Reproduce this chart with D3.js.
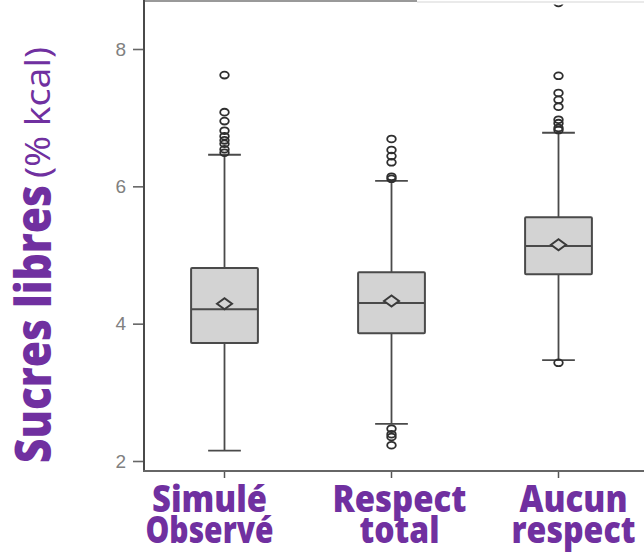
<!DOCTYPE html>
<html>
<head>
<meta charset="utf-8">
<script src="https://cdn.jsdelivr.net/npm/d3@7"></script>
<style>
  html, body { margin: 0; padding: 0; background: #fff; }
  svg { display: block; }
</style>
</head>
<body>
<svg id="chart" width="644" height="555"></svg>
<script>
// Free sugars (% kcal) distributions for three scenarios
const categories = ["Simulé Observé", "Respect total", "Aucun respect"];
const labelLines = [["Simulé", "Observé"], ["Respect", "total"], ["Aucun", "respect"]];
const q1 = [3.72, 3.86, 4.72];
const median = [4.21, 4.30, 5.13];
const q3 = [4.81, 4.75, 5.55];
const mean = [4.29, 4.33, 5.15];
const whiskerLow = [2.15, 2.54, 3.47];
const whiskerHigh = [6.46, 6.08, 6.78];
const outliers = [
  [7.62, 7.08, 6.95, 6.81, 6.73, 6.67, 6.62, 6.54, 6.49],
  [6.69, 6.53, 6.44, 6.35, 6.14, 6.11, 2.47, 2.39, 2.35, 2.23],
  [8.67, 7.61, 7.36, 7.26, 7.16, 6.97, 6.92, 6.85, 6.82, 3.43]
];
const yTicks = [2, 4, 6, 8];

const purple = "#7030A0";
const ink = "#4a4a4a";
const boxFill = "#d3d3d3";

const svg = d3.select("#chart");
const W = 644, H = 555;
const plot = { left: 144, top: 0, bottom: 471, right: 644 };

const x = d3.scaleBand().domain(categories).range([141, 642]).paddingInner(0).paddingOuter(0);
const y = d3.scaleLinear().domain([2, 8]).range([461, 49]);
const cx = c => x(c) + x.bandwidth() / 2;
const boxW = x.bandwidth() * 0.4;
const capW = boxW * 0.49;

const rows = categories.map((c, i) => ({
  cat: c, q1: q1[i], med: median[i], q3: q3[i], mean: mean[i],
  lo: whiskerLow[i], hi: whiskerHigh[i], out: outliers[i], lines: labelLines[i]
}));

svg.append("defs").append("clipPath").attr("id", "plotClip")
  .append("rect").attr("x", plot.left).attr("y", 4.5)
  .attr("width", plot.right - plot.left).attr("height", plot.bottom - 4.5);

// frame top edge
svg.append("line").attr("x1", plot.left).attr("x2", 417).attr("y1", 1).attr("y2", 1)
  .attr("stroke", "#777").attr("stroke-width", 1.5);
svg.append("line").attr("x1", 417).attr("x2", W).attr("y1", 2).attr("y2", 2)
  .attr("stroke", "#d6d6d6").attr("stroke-width", 1.2);

const g = svg.append("g").attr("clip-path", "url(#plotClip)");

const box = g.selectAll("g.box").data(rows).join("g").attr("class", "box");

// whiskers
box.append("line")
  .attr("x1", d => cx(d.cat)).attr("x2", d => cx(d.cat))
  .attr("y1", d => y(d.hi)).attr("y2", d => y(d.q3))
  .attr("stroke", ink).attr("stroke-width", 1.8);
box.append("line")
  .attr("x1", d => cx(d.cat)).attr("x2", d => cx(d.cat))
  .attr("y1", d => y(d.q1)).attr("y2", d => y(d.lo))
  .attr("stroke", ink).attr("stroke-width", 1.8);
// caps
["hi", "lo"].forEach(k => {
  box.append("line")
    .attr("x1", d => cx(d.cat) - capW / 2).attr("x2", d => cx(d.cat) + capW / 2)
    .attr("y1", d => y(d[k])).attr("y2", d => y(d[k]))
    .attr("stroke", ink).attr("stroke-width", 1.8);
});

// boxes
box.append("rect")
  .attr("x", d => cx(d.cat) - boxW / 2).attr("width", boxW)
  .attr("y", d => y(d.q3)).attr("height", d => y(d.q1) - y(d.q3))
  .attr("fill", boxFill).attr("stroke", ink).attr("stroke-width", 2).attr("rx", 1);
// median
box.append("line")
  .attr("x1", d => cx(d.cat) - boxW / 2).attr("x2", d => cx(d.cat) + boxW / 2)
  .attr("y1", d => y(d.med)).attr("y2", d => y(d.med))
  .attr("stroke", ink).attr("stroke-width", 2);
// mean diamond
box.append("path")
  .attr("d", d => {
    const X = cx(d.cat), Y = y(d.mean), a = 7.5, b = 5.5;
    return `M${X - a},${Y}L${X},${Y - b}L${X + a},${Y}L${X},${Y + b}Z`;
  })
  .attr("fill", boxFill).attr("stroke", "#3a3a3a").attr("stroke-width", 2);

// outliers
box.selectAll("ellipse").data(d => d.out.map(v => ({ cat: d.cat, v })))
  .join("ellipse")
  .attr("cx", d => cx(d.cat)).attr("cy", d => y(d.v))
  .attr("rx", 4.3).attr("ry", 3.4)
  .attr("fill", "none").attr("stroke", "#2e2e2e").attr("stroke-width", 1.8);

// y axis
const yAxis = svg.append("g").attr("transform", `translate(${plot.left},0)`)
  .call(d3.axisLeft(y).tickValues(yTicks).tickSize(11).tickPadding(7).tickFormat(d3.format("d")));
yAxis.select(".domain").remove();
yAxis.selectAll(".tick line").attr("stroke", "#666").attr("stroke-width", 1.6);
yAxis.selectAll(".tick text").attr("fill", "#808080")
  .style("font-family", "'Liberation Sans', Arial, sans-serif").style("font-size", "19px");
svg.append("line").attr("x1", plot.left).attr("x2", plot.left).attr("y1", 0).attr("y2", plot.bottom)
  .attr("stroke", ink).attr("stroke-width", 2);

// x axis
const xAxis = svg.append("g").attr("transform", `translate(0,${plot.bottom})`)
  .call(d3.axisBottom(x).tickSize(7).tickFormat(""));
xAxis.select(".domain").remove();
xAxis.selectAll(".tick line").attr("stroke", "#555").attr("stroke-width", 1.5);
svg.append("line").attr("x1", plot.left - 1).attr("x2", W).attr("y1", plot.bottom).attr("y2", plot.bottom)
  .attr("stroke", "#666").attr("stroke-width", 2);

// category labels (two lines each)
const labelShift = [-15, 8, 15];
const labelWidths = [[115, 128], [134, 80], [108, 124]];
const baselines = [512, 543];
rows.forEach((d, i) => {
  d.lines.forEach((t, j) => {
    svg.append("text")
      .attr("x", cx(d.cat) + labelShift[i]).attr("y", baselines[j])
      .attr("text-anchor", "middle")
      .attr("textLength", labelWidths[i][j]).attr("lengthAdjust", "spacingAndGlyphs")
      .attr("fill", purple)
      .style("font-family", "'Open Sans', sans-serif").style("font-weight", 800)
      .style("font-size", "37px")
      .text(t);
  });
});

// y axis title
svg.append("text")
  .attr("transform", "translate(51,463) rotate(-90)")
  .attr("textLength", 278).attr("lengthAdjust", "spacingAndGlyphs")
  .attr("fill", purple)
  .style("font-family", "'Open Sans', sans-serif").style("font-weight", 800).style("font-size", "49px")
  .text("Sucres libres");
svg.append("text")
  .attr("transform", "translate(50,178) rotate(-90)")
  .attr("textLength", 131).attr("lengthAdjust", "spacingAndGlyphs")
  .attr("fill", purple)
  .style("font-family", "'Open Sans', sans-serif").style("font-weight", 400).style("font-size", "35px")
  .text("(% kcal)");
</script>
</body>
</html>
